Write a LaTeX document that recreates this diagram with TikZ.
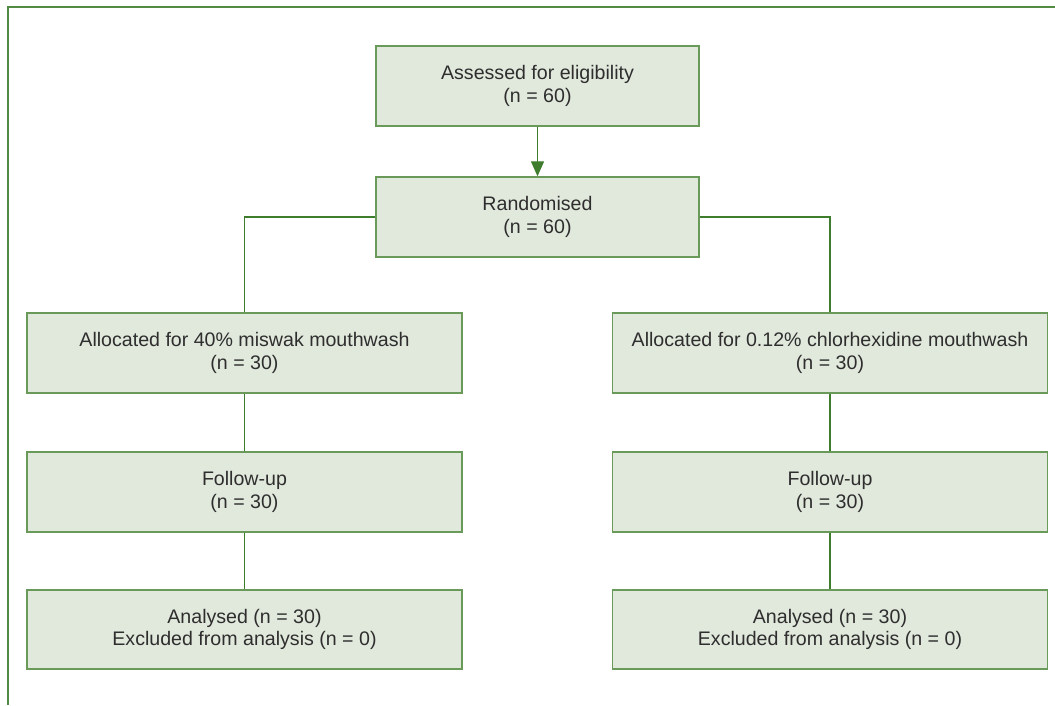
\documentclass[tikz,border=0pt]{standalone}
\usepackage{fontspec}
\setmainfont{Liberation Sans}
\usetikzlibrary{arrows.meta}
\definecolor{boxfill}{HTML}{E1E8DC}
\definecolor{boxline}{HTML}{6A9A5A}
\definecolor{conn}{HTML}{3F7D2E}
\definecolor{txt}{HTML}{2E2E2E}
\begin{document}
\begin{tikzpicture}[x=1pt,y=-1pt,
  box/.style={draw=boxline, fill=boxfill, line width=1.4pt, inner sep=0pt,
    align=center, text=txt, font=\fontsize{19.6}{22.5}\selectfont},
  topbox/.style={box, minimum width=323pt, minimum height=80pt},
  colbox/.style={box, minimum width=435pt, minimum height=80pt},
  link/.style={draw=conn, line width=1.3pt},
  frame/.style={draw=conn!90!white, line width=2pt}]
\useasboundingbox (0,0) rectangle (1055,705);
\draw[frame] (8,705) -- (8,7) -- (1055,7);
\node[topbox] (assess) at (537.5,86) {Assessed for eligibility\\(n = 60)};
\node[topbox] (rand) at (537.5,217) {Randomised\\(n = 60)};
\node[colbox] (allocL) at (244.5,353) {Allocated for 40\% miswak mouthwash\\(n = 30)};
\node[colbox] (allocR) at (830,353) {Allocated for 0.12\% chlorhexidine mouthwash\\(n = 30)};
\node[colbox] (followL) at (244.5,492) {Follow-up\\(n = 30)};
\node[colbox] (followR) at (830,492) {Follow-up\\(n = 30)};
\node[colbox, minimum height=79pt] (anaL) at (244.5,629.5) {Analysed (n = 30)\\Excluded from analysis (n = 0)};
\node[colbox, minimum height=79pt] (anaR) at (830,629.5) {Analysed (n = 30)\\Excluded from analysis (n = 0)};
\draw[link, -{Triangle[length=15pt,width=13pt]}] (assess) -- (rand);
\draw[link] (rand.west) -| (allocL.north);
\draw[link] (rand.east) -| (allocR.north);
\draw[link] (allocL) -- (followL);
\draw[link] (allocR) -- (followR);
\draw[link] (followL) -- (anaL);
\draw[link] (followR) -- (anaR);
\end{tikzpicture}
\end{document}
